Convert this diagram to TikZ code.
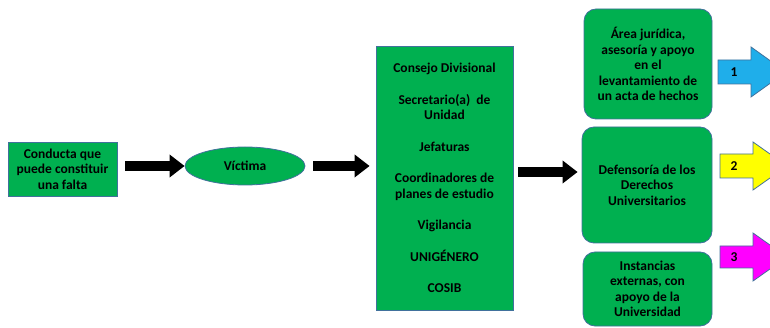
\documentclass[tikz,border=0pt]{standalone}
\usepackage{fontspec}
\setmainfont{Carlito}
\usetikzlibrary{arrows.meta,shapes.geometric}
\definecolor{boxgreen}{HTML}{00B050}
\definecolor{boxline}{HTML}{41719C}
\definecolor{arrblue}{HTML}{1FAEEA}
\definecolor{arryellow}{HTML}{FFFF00}
\definecolor{arrpink}{HTML}{FF00FF}
\begin{document}
\begin{tikzpicture}[x=1pt,y=-1pt,
       font=\fontsize{13.5}{15.5}\selectfont\bfseries,
       box/.style={rectangle,draw=boxline,fill=boxgreen,thick,align=center,
        inner sep=0pt,text=black},
       roundbox/.style={box,rounded corners=12pt},
       oval/.style={ellipse,draw=boxline,fill=boxgreen,thick,inner sep=0pt,
        minimum width=120pt,minimum height=38pt},
       bigarrow/.style={line width=10pt,black,-{Triangle[length=15pt,width=22pt]}},
       sidearrow/.style={draw=boxline,thick}]

    \useasboundingbox (0,0) rectangle (770,328);

    \node [box,minimum width=109pt,minimum height=54pt] (conducta) at (62.5,169)
        {Conducta que\\puede constituir\\una falta};
    \node [oval] (victima) at (245,166) {V\'ictima};
    \node [box,minimum width=137pt,minimum height=264pt] (organos) at (444.5,178)
        {Consejo Divisional\\[16pt]
         Secretario(a)\ \ de\\Unidad\\[16pt]
         Jefaturas\\[16pt]
         Coordinadores de\\planes de estudio\\[16pt]
         Vigilancia\\[16pt]
         UNIG\'ENERO\\[16pt]
         COSIB};
    \node [roundbox,minimum width=128pt,minimum height=110pt] (juridica) at (648,64)
        {\'Area jur\'idica,\\asesor\'ia y apoyo\\en el\\levantamiento de\\un acta de hechos};
    \node [roundbox,minimum width=130pt,minimum height=116pt] (defensoria) at (647,185)
        {Defensor\'ia de los\\Derechos\\Universitarios};
    \node [roundbox,minimum width=129pt,minimum height=74pt] (externas) at (647.5,289)
        {Instancias\\externas, con\\apoyo de la\\Universidad};

    % black connectors
    \draw [bigarrow] ([xshift=8pt]conducta.east |- victima.west) -- (victima.west);
    \draw [bigarrow] ([xshift=8pt]victima.east) -- ([xshift=-6pt]organos.west |- victima.east);
    \draw [bigarrow] ([xshift=5pt,yshift=6pt]organos.east) -- ([xshift=-4pt,yshift=13pt]defensoria.west);

    % numbered arrows
    \draw [sidearrow,fill=arrblue] (718,60) -- (751,60) -- (751,47) -- (786,72)
        -- (751,97) -- (751,84) -- (718,84) -- cycle;
    \draw [sidearrow,fill=arryellow] (720,154) -- (753,154) -- (753,142) -- (787,166)
        -- (753,190) -- (753,178) -- (720,178) -- cycle;
    \draw [sidearrow,fill=arrpink] (720,246) -- (753,246) -- (753,233) -- (787,257)
        -- (753,281) -- (753,268) -- (720,268) -- cycle;
    \node (n1) at (734,72) {1};
    \node (n2) at (734,166) {2};
    \node (n3) at (734,257) {3};
\end{tikzpicture}
\end{document}
